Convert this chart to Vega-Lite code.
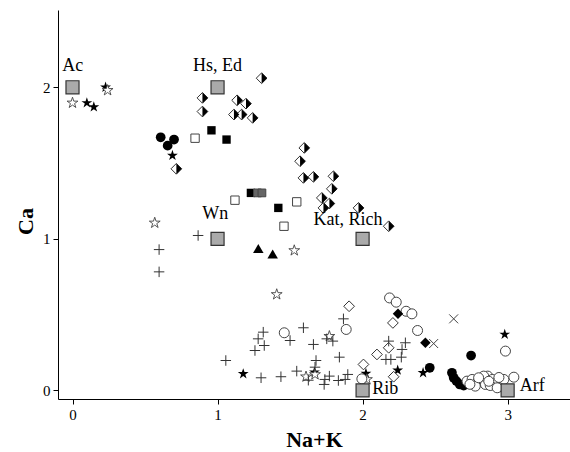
{
  "$schema": "https://vega.github.io/schema/vega-lite/v6.json",
  "width": 512,
  "height": 389,
  "autosize": {"type": "none"},
  "padding": {"left": 58, "top": 10, "right": 0, "bottom": 53},
  "background": "white",
  "config": {
    "view": {"stroke": null},
    "axis": {
      "grid": false,
      "domainColor": "#000",
      "domainWidth": 1,
      "tickColor": "#000",
      "tickSize": 5,
      "labelFontSize": 15,
      "labelColor": "#000",
      "labelFont": "Liberation Serif",
      "titleFont": "Liberation Serif",
      "titleFontSize": 22,
      "titleFontWeight": "bold",
      "titleColor": "#000"
    }
  },
  "data": {"values": [
      {"px": 0.228, "py": 2.0, "s": "star_f"},
      {"px": 0.242, "py": 1.98, "s": "star_o"},
      {"px": 0.0, "py": 1.897, "s": "star_o"},
      {"px": 0.099, "py": 1.897, "s": "star_f"},
      {"px": 0.147, "py": 1.87, "s": "star_f"},
      {"px": 0.689, "py": 1.55, "s": "star_f"},
      {"px": 1.177, "py": 0.109, "s": "star_f"},
      {"px": 1.61, "py": 0.09, "s": "star_o"},
      {"px": 1.672, "py": 0.105, "s": "star_o"},
      {"px": 1.668, "py": 0.12, "s": "star_f"},
      {"px": 2.023, "py": 0.111, "s": "star_f"},
      {"px": 2.03, "py": 0.072, "s": "star_o"},
      {"px": 2.242, "py": 0.133, "s": "star_f"},
      {"px": 2.417, "py": 0.116, "s": "star_f"},
      {"px": 2.98, "py": 0.369, "s": "star_f"},
      {"px": 0.567, "py": 1.105, "s": "star_o"},
      {"px": 1.529, "py": 0.923, "s": "star_o"},
      {"px": 1.408, "py": 0.633, "s": "star_o"},
      {"px": 1.771, "py": 0.357, "s": "star_o"},
      {"px": 0.608, "py": 1.67, "s": "circ_f"},
      {"px": 0.656, "py": 1.615, "s": "circ_f"},
      {"px": 0.70, "py": 1.655, "s": "circ_f"},
      {"px": 2.463, "py": 0.149, "s": "circ_f"},
      {"px": 2.748, "py": 0.23, "s": "circ_f"},
      {"px": 2.616, "py": 0.116, "s": "circ_f"},
      {"px": 2.628, "py": 0.083, "s": "circ_f"},
      {"px": 2.647, "py": 0.061, "s": "circ_f"},
      {"px": 2.67, "py": 0.039, "s": "circ_f"},
      {"px": 2.697, "py": 0.032, "s": "circ_f"},
      {"px": 1.46, "py": 0.38, "s": "circ_o"},
      {"px": 1.887, "py": 0.402, "s": "circ_o"},
      {"px": 2.186, "py": 0.61, "s": "circ_o"},
      {"px": 2.232, "py": 0.582, "s": "circ_o"},
      {"px": 2.30, "py": 0.522, "s": "circ_o"},
      {"px": 2.34, "py": 0.505, "s": "circ_o"},
      {"px": 2.379, "py": 0.395, "s": "circ_o"},
      {"px": 1.995, "py": 0.076, "s": "circ_o"},
      {"px": 2.985, "py": 0.259, "s": "circ_o"},
      {"px": 2.72, "py": 0.061, "s": "circ_o"},
      {"px": 2.755, "py": 0.072, "s": "circ_o"},
      {"px": 2.79, "py": 0.05, "s": "circ_o"},
      {"px": 2.824, "py": 0.072, "s": "circ_o"},
      {"px": 2.847, "py": 0.039, "s": "circ_o"},
      {"px": 2.863, "py": 0.094, "s": "circ_o"},
      {"px": 2.894, "py": 0.072, "s": "circ_o"},
      {"px": 2.916, "py": 0.05, "s": "circ_o"},
      {"px": 2.951, "py": 0.024, "s": "circ_o"},
      {"px": 2.974, "py": 0.072, "s": "circ_o"},
      {"px": 3.043, "py": 0.087, "s": "circ_o"},
      {"px": 2.777, "py": 0.028, "s": "circ_o"},
      {"px": 2.88, "py": 0.032, "s": "circ_o"},
      {"px": 2.928, "py": 0.017, "s": "circ_o"},
      {"px": 2.835, "py": 0.094, "s": "circ_o"},
      {"px": 2.80, "py": 0.083, "s": "circ_o"},
      {"px": 2.87, "py": 0.06, "s": "circ_o"},
      {"px": 2.94, "py": 0.085, "s": "circ_o"},
      {"px": 2.74, "py": 0.04, "s": "circ_o"},
      {"px": 0.958, "py": 1.716, "s": "sq_f"},
      {"px": 1.062, "py": 1.655, "s": "sq_f"},
      {"px": 1.419, "py": 1.204, "s": "sq_f"},
      {"px": 1.23, "py": 1.303, "s": "sq_f"},
      {"px": 1.275, "py": 1.303, "s": "sq_g"},
      {"px": 1.306, "py": 1.303, "s": "sq_g"},
      {"px": 0.845, "py": 1.664, "s": "sq_o"},
      {"px": 1.12, "py": 1.255, "s": "sq_o"},
      {"px": 1.546, "py": 1.244, "s": "sq_o"},
      {"px": 1.458, "py": 1.083, "s": "sq_o"},
      {"px": 1.281, "py": 0.936, "s": "tri_f"},
      {"px": 1.38, "py": 0.90, "s": "tri_f"},
      {"px": 2.244, "py": 0.505, "s": "dia_f"},
      {"px": 2.433, "py": 0.314, "s": "dia_f"},
      {"px": 1.907, "py": 0.555, "s": "dia_o"},
      {"px": 2.209, "py": 0.445, "s": "dia_o"},
      {"px": 2.099, "py": 0.237, "s": "dia_o"},
      {"px": 2.18, "py": 0.281, "s": "dia_o"},
      {"px": 2.214, "py": 0.09, "s": "dia_o"},
      {"px": 2.006, "py": 0.171, "s": "dia_o"},
      {"px": 2.628, "py": 0.472, "s": "xm"},
      {"px": 2.49, "py": 0.309, "s": "xm"},
      {"px": 0.866, "py": 1.022, "s": "plus"},
      {"px": 0.597, "py": 0.929, "s": "plus"},
      {"px": 0.597, "py": 0.782, "s": "plus"},
      {"px": 1.868, "py": 0.472, "s": "plus"},
      {"px": 1.315, "py": 0.384, "s": "plus"},
      {"px": 1.28, "py": 0.34, "s": "plus"},
      {"px": 1.322, "py": 0.296, "s": "plus"},
      {"px": 1.258, "py": 0.263, "s": "plus"},
      {"px": 1.057, "py": 0.197, "s": "plus"},
      {"px": 1.50, "py": 0.329, "s": "plus"},
      {"px": 1.592, "py": 0.413, "s": "plus"},
      {"px": 1.661, "py": 0.303, "s": "plus"},
      {"px": 1.679, "py": 0.197, "s": "plus"},
      {"px": 1.672, "py": 0.153, "s": "plus"},
      {"px": 1.84, "py": 0.219, "s": "plus"},
      {"px": 1.753, "py": 0.34, "s": "plus"},
      {"px": 1.795, "py": 0.325, "s": "plus"},
      {"px": 1.3, "py": 0.083, "s": "plus"},
      {"px": 1.437, "py": 0.09, "s": "plus"},
      {"px": 1.546, "py": 0.127, "s": "plus"},
      {"px": 1.626, "py": 0.067, "s": "plus"},
      {"px": 1.735, "py": 0.039, "s": "plus"},
      {"px": 1.74, "py": 0.072, "s": "plus"},
      {"px": 1.771, "py": 0.094, "s": "plus"},
      {"px": 1.833, "py": 0.065, "s": "plus"},
      {"px": 1.88, "py": 0.072, "s": "plus"},
      {"px": 1.898, "py": 0.105, "s": "plus"},
      {"px": 2.18, "py": 0.325, "s": "plus"},
      {"px": 2.161, "py": 0.204, "s": "plus"},
      {"px": 2.195, "py": 0.204, "s": "plus"},
      {"px": 2.295, "py": 0.314, "s": "plus"},
      {"px": 2.272, "py": 0.27, "s": "plus"},
      {"px": 2.267, "py": 0.219, "s": "plus"},
      {"px": 0.716, "py": 1.462, "s": "dia_h"},
      {"px": 0.896, "py": 1.93, "s": "dia_h"},
      {"px": 0.896, "py": 1.84, "s": "dia_h"},
      {"px": 1.304, "py": 2.06, "s": "dia_h"},
      {"px": 1.135, "py": 1.914, "s": "dia_h"},
      {"px": 1.196, "py": 1.892, "s": "dia_h"},
      {"px": 1.113, "py": 1.82, "s": "dia_h"},
      {"px": 1.166, "py": 1.82, "s": "dia_h"},
      {"px": 1.242, "py": 1.798, "s": "dia_h"},
      {"px": 1.598, "py": 1.60, "s": "dia_h"},
      {"px": 1.569, "py": 1.512, "s": "dia_h"},
      {"px": 1.592, "py": 1.402, "s": "dia_h"},
      {"px": 1.661, "py": 1.409, "s": "dia_h"},
      {"px": 1.799, "py": 1.413, "s": "dia_h"},
      {"px": 1.788, "py": 1.33, "s": "dia_h"},
      {"px": 1.719, "py": 1.27, "s": "dia_h"},
      {"px": 1.771, "py": 1.233, "s": "dia_h"},
      {"px": 1.73, "py": 1.204, "s": "dia_h"},
      {"px": 1.972, "py": 1.204, "s": "dia_h"},
      {"px": 2.18, "py": 1.083, "s": "dia_h"},
      {"px": 0, "py": 2, "s": "ref"},
      {"px": 1, "py": 2, "s": "ref"},
      {"px": 1, "py": 1, "s": "ref"},
      {"px": 2, "py": 1, "s": "ref"},
      {"px": 2, "py": 0, "s": "ref"},
      {"px": 3, "py": 0, "s": "ref"}
  ]},
  "encoding": {
    "x": {
      "field": "px", "type": "quantitative",
      "scale": {"domain": [-0.1, 3.43], "nice": false, "zero": false},
      "axis": {"values": [0, 1, 2, 3], "format": "d", "title": "Na+K", "titlePadding": 7, "labelPadding": 3}
    },
    "y": {
      "field": "py", "type": "quantitative",
      "scale": {"domain": [-0.057, 2.51], "nice": false, "zero": false},
      "axis": {"values": [0, 1, 2], "format": "d", "title": "Ca", "titlePadding": 5, "titleY": 211, "labelPadding": 3}
    }
  },
  "layer": [
    {
      "transform": [{"filter": "datum.s == 'star_f'"}],
      "mark": {"type": "point", "shape": "M0,-1L0.225,-0.309L0.951,-0.309L0.363,0.118L0.588,0.809L0,0.382L-0.588,0.809L-0.363,0.118L-0.951,-0.309L-0.225,-0.309Z", "filled": true, "size": 130, "color": "#000000", "opacity": 1}
    },
    {
      "transform": [{"filter": "datum.s == 'star_o'"}],
      "mark": {"type": "point", "shape": "M0,-1L0.225,-0.309L0.951,-0.309L0.363,0.118L0.588,0.809L0,0.382L-0.588,0.809L-0.363,0.118L-0.951,-0.309L-0.225,-0.309Z", "filled": false, "size": 130, "fill": "#ffffff", "stroke": "#444444", "strokeWidth": 0.9, "opacity": 1}
    },
    {
      "transform": [{"filter": "datum.s == 'circ_f'"}],
      "mark": {"type": "point", "shape": "circle", "filled": true, "size": 95, "color": "#000000", "opacity": 1}
    },
    {
      "transform": [{"filter": "datum.s == 'circ_o'"}],
      "mark": {"type": "point", "shape": "circle", "filled": false, "size": 100, "fill": "#ffffff", "stroke": "#444444", "strokeWidth": 1, "opacity": 1}
    },
    {
      "transform": [{"filter": "datum.s == 'sq_f'"}],
      "mark": {"type": "point", "shape": "square", "filled": true, "size": 70, "color": "#000000", "opacity": 1}
    },
    {
      "transform": [{"filter": "datum.s == 'sq_g'"}],
      "mark": {"type": "point", "shape": "square", "filled": false, "size": 60, "fill": "#666666", "stroke": "#444444", "strokeWidth": 1, "opacity": 1}
    },
    {
      "transform": [{"filter": "datum.s == 'sq_o'"}],
      "mark": {"type": "point", "shape": "square", "filled": false, "size": 70, "fill": "#ffffff", "stroke": "#444444", "strokeWidth": 1, "opacity": 1}
    },
    {
      "transform": [{"filter": "datum.s == 'tri_f'"}],
      "mark": {"type": "point", "shape": "triangle-up", "filled": true, "size": 110, "color": "#000000", "opacity": 1}
    },
    {
      "transform": [{"filter": "datum.s == 'dia_f'"}],
      "mark": {"type": "point", "shape": "diamond", "filled": true, "size": 110, "color": "#000000", "opacity": 1}
    },
    {
      "transform": [{"filter": "datum.s == 'dia_o' || datum.s == 'dia_h'"}],
      "mark": {"type": "point", "shape": "diamond", "filled": false, "size": 115, "fill": "#ffffff", "stroke": "#333333", "strokeWidth": 1, "opacity": 1}
    },
    {
      "transform": [{"filter": "datum.s == 'dia_h'"}],
      "mark": {"type": "point", "shape": "M0,-1L1,0L0,1Z", "filled": true, "size": 115, "color": "#000000", "opacity": 1}
    },
    {
      "transform": [{"filter": "datum.s == 'plus'"}],
      "mark": {"type": "point", "shape": "M-1,0L1,0M0,-1L0,1", "filled": false, "size": 110, "stroke": "#333333", "strokeWidth": 1, "opacity": 1}
    },
    {
      "transform": [{"filter": "datum.s == 'xm'"}],
      "mark": {"type": "point", "shape": "M-1,-1L1,1M-1,1L1,-1", "filled": false, "size": 80, "stroke": "#444444", "strokeWidth": 1, "opacity": 1}
    },
    {
      "transform": [{"filter": "datum.s == 'ref'"}],
      "mark": {"type": "point", "shape": "square", "filled": false, "size": 170, "fill": "#aaaaaa", "stroke": "#333333", "strokeWidth": 1.2, "opacity": 1}
    },
    {
      "data": {"values": [
        {"lx": 0.002, "ly": 2.138, "t": "Ac"},
        {"lx": 1.0, "ly": 2.138, "t": "Hs, Ed"},
        {"lx": 0.985, "ly": 1.162, "t": "Wn"},
        {"lx": 1.899, "ly": 1.127, "t": "Kat, Rich"},
        {"lx": 2.156, "ly": 0.012, "t": "Rib"},
        {"lx": 3.17, "ly": 0.028, "t": "Arf"}
      ]},
      "mark": {"type": "text", "fontSize": 18, "font": "Liberation Serif", "align": "center", "baseline": "middle", "color": "#000000"},
      "encoding": {
        "x": {"field": "lx", "type": "quantitative"},
        "y": {"field": "ly", "type": "quantitative"},
        "text": {"field": "t"}
      }
    }
  ]
}
